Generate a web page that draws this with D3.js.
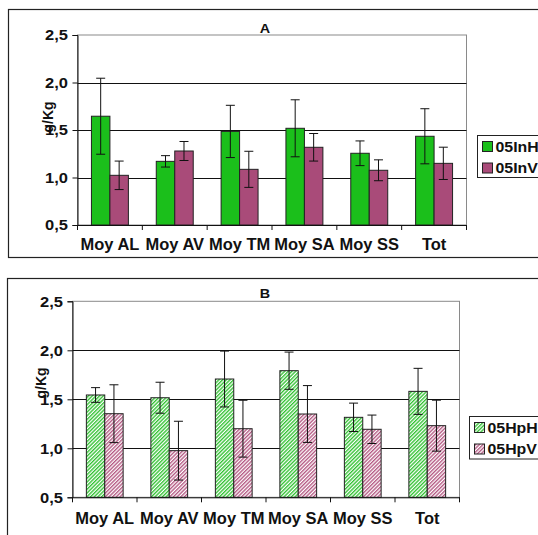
<!DOCTYPE html>
<html><head><meta charset="utf-8">
<script src="https://cdn.jsdelivr.net/npm/d3@7"></script>
<style>body{margin:0;background:#fff;} svg{display:block;font-family:"Liberation Sans",Arial,sans-serif;font-weight:bold;}</style>
</head><body>
<script>
const categories = ["Moy AL","Moy AV","Moy TM","Moy SA","Moy SS","Tot"];
const yTicks = [0.5,1.0,1.5,2.0,2.5];
const yTickLabels = ["0,5","1,0","1,5","2,0","2,5"];
const seriesA = ["05InH","05InV"];
const valuesA_H = [1.645,1.17,1.485,1.518,1.255,1.434];
const valuesA_V = [1.023,1.279,1.086,1.318,1.076,1.149];
const errA_H = [0.40,0.06,0.275,0.30,0.13,0.29];
const errA_V = [0.15,0.10,0.19,0.145,0.11,0.17];
const seriesB = ["05HpH","05HpV"];
const valuesB_H = [1.544,1.516,1.707,1.792,1.316,1.581];
const valuesB_V = [1.353,0.976,1.200,1.350,1.194,1.231];
const errB_H = [0.075,0.158,0.285,0.19,0.145,0.235];
const errB_V = [0.295,0.30,0.29,0.29,0.145,0.26];

const W=538,H=535;
const svg=d3.select("body").append("svg").attr("width",W).attr("height",H);
const defs=svg.append("defs");
function hatch(id,color){
  const p=defs.append("pattern").attr("id",id).attr("patternUnits","userSpaceOnUse")
    .attr("width",2.6).attr("height",2.6).attr("patternTransform","rotate(45)");
  p.append("rect").attr("width",2.6).attr("height",2.6).attr("fill","#fff");
  p.append("line").attr("x1",0.7).attr("y1",0).attr("x2",0.7).attr("y2",2.6).attr("stroke",color).attr("stroke-width",1.3);
}
hatch("hG","#27bf27");
hatch("hP","#b04f7c");

function panel(cfg){
  const g=svg.append("g");
  g.append("rect").attr("x",cfg.frame[0]).attr("y",cfg.frame[1]).attr("width",cfg.frame[2]).attr("height",cfg.frame[3])
    .attr("fill","none").attr("stroke","#222").attr("stroke-width",1.2);
  const x=d3.scaleBand().domain(categories).range([cfg.x0,cfg.x1]).paddingInner(0.43).paddingOuter(0.215);
  const x1=d3.scaleBand().domain(cfg.series).range([0,x.bandwidth()]);
  const y=d3.scaleLinear().domain([0.5,2.5]).range([cfg.y0,cfg.y1]);
  g.append("rect").attr("x",cfg.x0).attr("y",cfg.y1).attr("width",cfg.x1-cfg.x0).attr("height",cfg.y0-cfg.y1)
    .attr("fill","none").attr("stroke","#8a8a8a").attr("stroke-width",1);
  g.selectAll(".grid").data(yTicks.filter(v=>v>0.5&&v<2.5)).join("line")
    .attr("x1",cfg.x0).attr("x2",cfg.x1).attr("y1",d=>Math.round(y(d))+0.5).attr("y2",d=>Math.round(y(d))+0.5)
    .attr("stroke","#111").attr("stroke-width",1);
  const data=categories.map((c,i)=>({c,vals:[{s:cfg.series[0],v:cfg.h[i],e:cfg.eh[i]},{s:cfg.series[1],v:cfg.v[i],e:cfg.ev[i]}]}));
  const grp=g.selectAll(".cat").data(data).join("g").attr("transform",d=>`translate(${x(d.c)},0)`);
  grp.selectAll("rect").data(d=>d.vals).join("rect")
    .attr("x",d=>x1(d.s)).attr("width",x1.bandwidth())
    .attr("y",d=>y(d.v)).attr("height",d=>y(0.5)-y(d.v))
    .attr("fill",(d,i)=>cfg.fills[i]).attr("stroke","#222").attr("stroke-width",1);
  const eb=grp.selectAll(".eb").data(d=>d.vals).join("g");
  eb.append("line").attr("x1",d=>x1(d.s)+x1.bandwidth()/2).attr("x2",d=>x1(d.s)+x1.bandwidth()/2)
    .attr("y1",d=>y(d.v+d.e)).attr("y2",d=>y(d.v-d.e)).attr("stroke","#111").attr("stroke-width",1);
  [1,-1].forEach(sg=>{
    eb.append("line").attr("x1",d=>x1(d.s)+x1.bandwidth()/2-4.5).attr("x2",d=>x1(d.s)+x1.bandwidth()/2+4.5)
      .attr("y1",d=>y(d.v+sg*d.e)).attr("y2",d=>y(d.v+sg*d.e)).attr("stroke","#111").attr("stroke-width",1);
  });
  const sx=1.1;
  const ya=d3.axisLeft(y).tickValues(yTicks).tickSize(5).tickFormat((d,i)=>yTickLabels[i]).tickPadding(5);
  const yg=g.append("g").attr("transform",`translate(${cfg.x0},0)`).call(ya);
  yg.select(".domain").attr("stroke","#111");
  yg.selectAll(".tick line").attr("stroke","#111");
  yg.selectAll("text").attr("font-size",15).attr("font-weight","bold").attr("fill","#111")
    .attr("font-family","Liberation Sans, Arial, sans-serif").attr("x",-(cfg.tickPad)/sx).attr("transform",`scale(${sx},1)`);
  const xa=d3.axisBottom(x).tickSize(0).tickPadding(0);
  const xg=g.append("g").attr("transform",`translate(0,${cfg.y0})`).call(xa);
  xg.select(".domain").attr("stroke","#111");
  xg.selectAll("text").attr("font-size",16).attr("font-weight","bold").attr("fill","#111")
    .attr("font-family","Liberation Sans, Arial, sans-serif").attr("dy",null).attr("y",cfg.labY-cfg.y0)
    .attr("transform","scale(1.03,1)");
  const step=x.step();
  xg.selectAll(".sep").data(d3.range(categories.length+1)).join("line")
    .attr("x1",i=>cfg.x0+i*step).attr("x2",i=>cfg.x0+i*step).attr("y1",0).attr("y2",5).attr("stroke","#111");
  g.append("text").attr("transform",`translate(${cfg.ylabX},${cfg.ylabY}) rotate(-90)`).attr("text-anchor","middle")
    .attr("font-size",14).attr("fill","#111").text("g/Kg");
  g.append("text").attr("x",cfg.titleX/1.15).attr("y",cfg.titleY).attr("transform","scale(1.15,1)")
    .attr("text-anchor","middle").attr("font-size",12.5).attr("fill","#111").text(cfg.title);
  const L=cfg.legend;
  g.append("rect").attr("x",L[0]).attr("y",L[1]).attr("width",80).attr("height",L[2]).attr("fill","#fff").attr("stroke","#222").attr("stroke-width",1);
  cfg.series.forEach((s,i)=>{
    const sy=L[1]+6+i*21.5;
    g.append("rect").attr("x",L[0]+5).attr("y",sy).attr("width",10).attr("height",10).attr("fill",cfg.fills[i]).attr("stroke","#222");
    g.append("text").attr("x",(L[0]+18)/1.06).attr("y",sy+10.5).attr("transform","scale(1.06,1)")
      .attr("font-size",15).attr("fill","#111").text(s);
  });
}

panel({frame:[8.5,9.5,600,248],x0:77.5,x1:466.5,y0:225,y1:35,labY:250,ylabX:53,ylabY:117,tickPad:9.5,
  title:"A",titleX:265,titleY:33,series:seriesA,h:valuesA_H,v:valuesA_V,eh:errA_H,ev:errA_V,
  fills:["#1bbf1b","#a94b79"],legend:[477.5,135.5,42]});
panel({frame:[7.5,278.5,600,300],x0:72.5,x1:459.5,y0:497.3,y1:301.3,labY:524,ylabX:46,ylabY:383,tickPad:9.5,
  title:"B",titleX:265,titleY:298,series:seriesB,h:valuesB_H,v:valuesB_V,eh:errB_H,ev:errB_V,
  fills:["url(#hG)","url(#hP)"],legend:[469.5,416.5,42.5]});
</script>
</body></html>
